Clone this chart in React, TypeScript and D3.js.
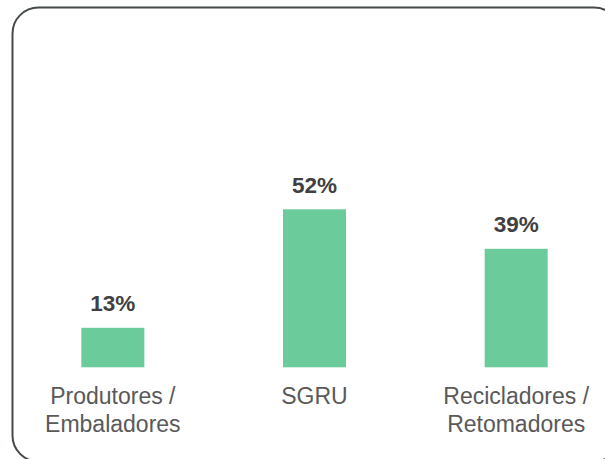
import React from "react";
import * as d3 from "d3";

const categories = ["Produtores / Embaladores", "SGRU", "Recicladores / Retomadores"];
const categoryLines = [["Produtores /", "Embaladores"], ["SGRU"], ["Recicladores /", "Retomadores"]];
const values = [13, 52, 39];
const valueLabels = ["13%", "52%", "39%"];

export default function App() {
  const W = 605, H = 459;
  const baseline = 367.3;
  const x = d3.scaleBand<string>().domain(categories).range([12, 617]).paddingInner(0.6875).paddingOuter(0.34375);
  const y = d3.scaleLinear().domain([0, 52]).range([baseline, 209.3]);
  const font = "Arial, 'Liberation Sans', sans-serif";
  return (
    <svg width={W} height={H} style={{ position: "absolute", left: 0, top: 0, display: "block" }}>
      <rect x={0} y={0} width={W} height={H} fill="#ffffff" />
      <rect x={12.5} y={7.5} width={607.5} height={454} rx={26} ry={26} fill="none" stroke="#454a4a" strokeWidth={2} />
      {categories.map((c, i) => {
        const bx = x(c)!;
        const bw = x.bandwidth();
        const cx = bx + bw / 2;
        return (
          <g key={c}>
            <rect x={bx} y={y(values[i])} width={bw} height={baseline - y(values[i])} fill="#6ccb9a" />
            <text x={cx} y={y(values[i]) - 16.6} textAnchor="middle" fontFamily={font} fontWeight="bold" fontSize={22.5} fill="#404040">
              {valueLabels[i]}
            </text>
            {categoryLines[i].map((ln, j) => (
              <text key={j} x={cx} y={404.3 + j * 27.4} textAnchor="middle" fontFamily={font} fontSize={23} fill="#595959">
                {ln}
              </text>
            ))}
          </g>
        );
      })}
    </svg>
  );
}
